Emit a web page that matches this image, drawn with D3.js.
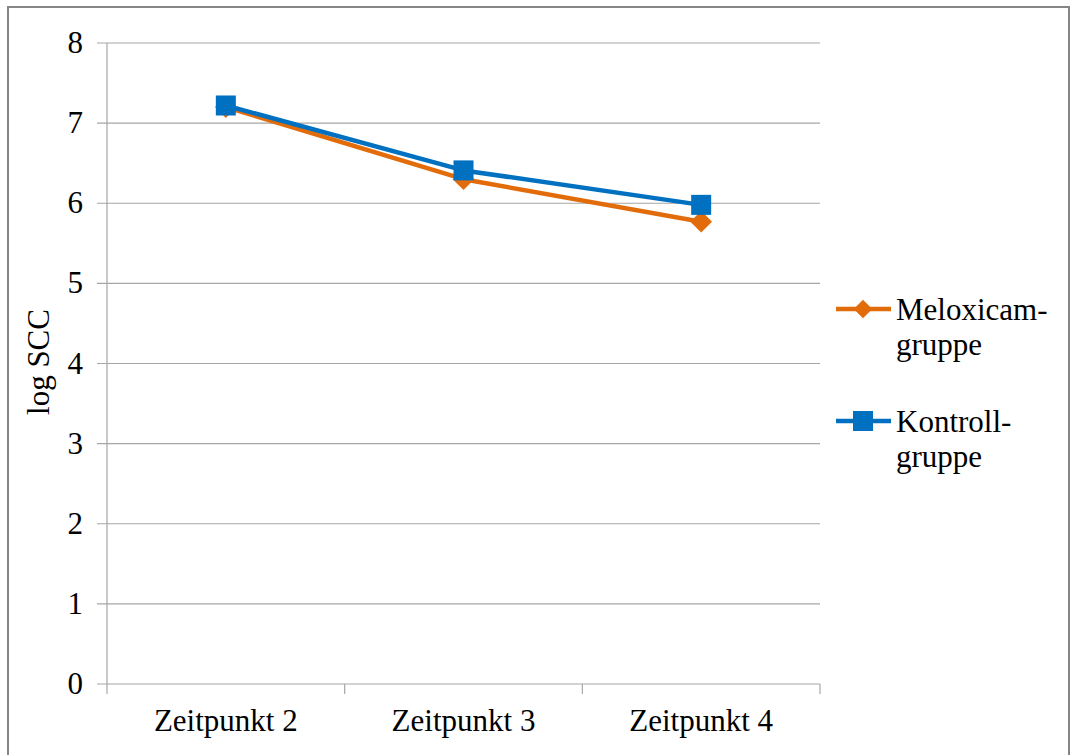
<!DOCTYPE html>
<html>
<head>
<meta charset="utf-8">
<script src="https://cdn.jsdelivr.net/npm/d3@7"></script>
</head>
<body style="margin:0;background:#fff">
<div id="container"></div>
<script>
let w = 1075;
let h = 755;

// data
let categories = ["Zeitpunkt 2", "Zeitpunkt 3", "Zeitpunkt 4"];
let meloxicam = [7.2, 6.3, 5.77];
let kontroll = [7.22, 6.41, 5.98];
let seriesNames = [["Meloxicam-", "gruppe"], ["Kontroll-", "gruppe"]];
let yTicks = [0, 1, 2, 3, 4, 5, 6, 7, 8];

let orange = "#e36c0a";
let blue = "#0070c0";
let serif = "Liberation Serif, Times New Roman, Tinos, DejaVu Serif, Noto Serif, serif";

let viz = d3.select("#container").append("svg")
    .attr("width", w)
    .attr("height", h)
    .style("display", "block");

// outer frame
viz.append("rect")
  .attr("x", 8).attr("y", 7)
  .attr("width", 1061).attr("height", 760)
  .attr("fill", "white")
  .attr("stroke", "#868686")
  .attr("stroke-width", 2);

let plotLeft = 107, plotRight = 820, plotTop = 43, plotBottom = 684;

let x = d3.scaleBand().domain(categories).range([plotLeft, plotRight]);
let y = d3.scaleLinear().domain([0, 8]).range([plotBottom, plotTop]);

// gridlines
viz.append("g").selectAll("line").data(yTicks).enter().append("line")
  .attr("x1", plotLeft - 10).attr("x2", plotRight)
  .attr("y1", d => y(d)).attr("y2", d => y(d))
  .attr("stroke", "#a6a6a6").attr("stroke-width", 1.2);

// y axis line
viz.append("line")
  .attr("x1", plotLeft).attr("x2", plotLeft)
  .attr("y1", plotTop).attr("y2", plotBottom)
  .attr("stroke", "#a6a6a6").attr("stroke-width", 1.2);

// y labels
viz.append("g").selectAll("text").data(yTicks).enter().append("text")
  .attr("x", 83).attr("y", d => y(d) + 10)
  .attr("text-anchor", "end")
  .attr("font-family", serif)
  .attr("font-size", 31)
  .attr("fill", "#000")
  .text(d => d);

// x axis ticks at band edges
let edges = categories.map(c => x(c)).concat([plotRight]);
viz.append("g").selectAll("line").data(edges).enter().append("line")
  .attr("x1", d => d).attr("x2", d => d)
  .attr("y1", plotBottom).attr("y2", plotBottom + 10)
  .attr("stroke", "#a6a6a6").attr("stroke-width", 1.2);

viz.append("g").selectAll("text").data(categories).enter().append("text")
  .attr("x", d => x(d) + x.bandwidth() / 2)
  .attr("y", 731)
  .attr("text-anchor", "middle")
  .attr("font-family", serif)
  .attr("font-size", 31)
  .attr("fill", "#000")
  .text(d => d);

// axis title
viz.append("text")
  .attr("transform", "translate(49,362) rotate(-90)")
  .attr("text-anchor", "middle")
  .attr("font-family", serif)
  .attr("font-size", 31)
  .attr("fill", "#000")
  .text("log SCC");

let cx = (d, i) => x(categories[i]) + x.bandwidth() / 2;
let line = d3.line().x((d, i) => cx(d, i)).y(d => y(d));

// Meloxicam
viz.append("path").datum(meloxicam)
  .attr("d", line).attr("fill", "none")
  .attr("stroke", orange).attr("stroke-width", 4.5).attr("stroke-linejoin", "round");
viz.append("g").selectAll("path").data(meloxicam).enter().append("path")
  .attr("d", d3.symbol().type(d3.symbolDiamond2).size(300))
  .attr("transform", (d, i) => "translate(" + cx(d, i) + "," + y(d) + ")")
  .attr("fill", orange);

// Kontroll
viz.append("path").datum(kontroll)
  .attr("d", line).attr("fill", "none")
  .attr("stroke", blue).attr("stroke-width", 4.5).attr("stroke-linejoin", "round");
viz.append("g").selectAll("rect").data(kontroll).enter().append("rect")
  .attr("x", (d, i) => cx(d, i) - 10).attr("y", d => y(d) - 10)
  .attr("width", 20).attr("height", 20)
  .attr("fill", blue);

// legend
let legendY = [309, 421];
let colors = [orange, blue];
seriesNames.forEach((name, i) => {
  let g = viz.append("g").attr("transform", "translate(836," + legendY[i] + ")");
  g.append("line").attr("x1", 0).attr("x2", 55).attr("y1", 0).attr("y2", 0)
    .attr("stroke", colors[i]).attr("stroke-width", 4.5);
  if (i == 0) {
    g.append("path").attr("d", d3.symbol().type(d3.symbolDiamond2).size(220))
      .attr("transform", "translate(27,0)").attr("fill", colors[i]);
  } else {
    g.append("rect").attr("x", 17).attr("y", -10).attr("width", 20).attr("height", 20)
      .attr("fill", colors[i]);
  }
  g.selectAll("text").data(name).enter().append("text")
    .attr("x", 60).attr("y", (d, j) => 11 + j * 35)
    .attr("font-family", serif).attr("font-size", 31).attr("fill", "#000")
    .text(d => d);
});
</script>
</body>
</html>
